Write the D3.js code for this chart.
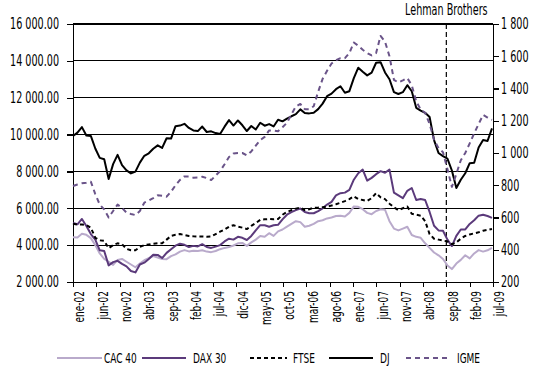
<!DOCTYPE html>
<html><head><meta charset="utf-8">
<script src="https://cdn.jsdelivr.net/npm/d3@7"></script>
<style>
html,body{margin:0;padding:0;background:#fff;}
svg text{font-family:"DejaVu Sans Condensed","DejaVu Sans",sans-serif;font-stretch:condensed;fill:#000;}
</style></head>
<body><svg id="c" width="546" height="378"></svg>
<script>
// x-axis tick labels (as printed on the chart)
const tickLabels = ["ene-02","jun-02","nov-02","abr-03","sep-03","feb-04","jul-04","dic-04","may-05","oct-05","mar-06","ago-06","ene-07","jun-07","nov-07","abr-08","sep-08","feb-09","jul-09"];
const eventLabel = "Lehman Brothers";
const eventTick = "sep-08";
// monthly observations, ene-02 ... nov-09 (95 points)
const months = d3.timeMonths(new Date(2002,0,1), new Date(2009,11,1));

const cac40 = [4430,4420,4620,4560,4380,4000,3550,3250,3100,2930,3200,3250,
 3100,2950,2800,3000,3180,3300,3410,3330,3250,3240,3400,3500,
 3650,3730,3660,3690,3680,3720,3650,3620,3680,3780,3850,3900,
 3980,4100,4120,3960,4150,4300,4500,4450,4650,4500,4750,4850,
 5000,5150,5300,5250,5000,5050,5150,5300,5350,5450,5500,5580,
 5600,5550,5750,6100,6080,5950,5750,5680,5850,5950,5920,5300,
 4900,4800,4900,5000,4550,4450,4400,4100,3850,3600,3450,3250,
 2900,2700,3000,3200,3450,3280,3550,3730,3650,3720,3850];
const dax30 = [5200,5130,5420,5040,4600,4300,3720,3680,2900,3080,3150,2980,
 2850,2600,2520,2950,3050,3250,3480,3470,3300,3580,3780,3970,
 4080,4020,3900,3960,3930,4050,3900,3850,3920,4000,4200,4350,
 4300,4450,4400,4280,4500,4800,5081,5081,5000,5081,5100,5400,
 5650,5790,5900,5990,5800,5730,5730,5850,6000,6200,6350,6700,
 6820,6850,7000,7550,7900,8100,7500,7650,7850,8016,7930,8100,
 6850,6700,6550,6950,7100,6450,6500,6450,5800,5050,4800,4780,
 4300,3950,4500,4850,4850,5150,5350,5600,5650,5580,5480];
const ftse = [5165,5120,5120,5090,4950,4400,4260,4230,3830,4000,4100,4050,
 3800,3720,3720,3900,4000,4040,4080,4100,4100,4300,4500,4560,
 4600,4550,4500,4480,4470,4470,4460,4470,4600,4730,4850,5000,
 5080,5000,4950,4870,5050,5200,5370,5400,5420,5400,5420,5650,
 5800,5900,5980,6040,5900,5950,6030,6040,6060,6090,6150,6220,
 6300,6390,6500,6650,6500,6450,6400,6550,6820,6600,6500,6250,
 6050,5900,6000,6100,5700,5650,5600,5300,4600,4350,4300,4250,
 4200,4050,4150,4350,4500,4580,4640,4700,4780,4830,4880];
const dj = [9920,10106,10404,9946,9925,9243,8737,8664,7592,8397,8896,8342,
 8054,7891,7992,8480,8850,8985,9234,9416,9275,9801,9782,10454,
 10488,10584,10358,10226,10188,10435,10140,10174,10080,10027,10428,10783,
 10490,10766,10504,10193,10467,10275,10641,10482,10569,10440,10806,10718,
 10865,10993,11109,11367,11168,11150,11186,11381,11679,12081,12222,12463,
 12622,12269,12354,13063,13628,13409,13212,13358,13896,13930,13372,13000,
 12300,12200,12300,12680,12350,11450,11300,11180,10950,9700,9000,8830,
 8700,8050,7100,7550,7900,8450,8470,9300,9700,9650,10340];
const igme = [795,805,812,815,822,745,680,650,600,640,680,660,
 630,622,615,640,692,705,720,738,735,729,760,800,
 833,855,855,847,848,853,845,832,860,888,930,975,
 997,1000,1000,985,1010,1045,1080,1100,1140,1140,1135,1160,
 1187,1240,1289,1304,1272,1272,1290,1380,1460,1510,1555,1575,
 1588,1588,1620,1685,1665,1640,1620,1605,1620,1726,1690,1600,
 1454,1437,1450,1465,1420,1320,1270,1250,1180,1083,1030,1005,
 900,790,870,955,1000,1060,1122,1180,1236,1220,1205];

const leftTicks = [2000,4000,6000,8000,10000,12000,14000,16000];
const rightTicks = [200,400,600,800,1000,1200,1400,1600,1800];

const series = [
  {name:"CAC 40", values:cac40, axis:"L", color:"#b9aacb", dash:null},
  {name:"DAX 30", values:dax30, axis:"L", color:"#5b3a7b", dash:null},
  {name:"FTSE",   values:ftse,  axis:"L", color:"#000000", dash:"4,3"},
  {name:"DJ",     values:dj,    axis:"L", color:"#000000", dash:null},
  {name:"IGME",   values:igme,  axis:"R", color:"#6a5489", dash:"5,4"}
];

const svg = d3.select("#c");
const L = 73, R = 493, T = 24, B = 282;

const x = d3.scalePoint().domain(d3.range(months.length)).range([L, 492]);
const xTick = d3.scalePoint().domain(tickLabels).range([L, R]);
const yL = d3.scaleLinear().domain([2000,16000]).range([B, T]);
const yR = d3.scaleLinear().domain([200,1800]).range([B, T]);

const fmtL = v => d3.format(",.2f")(v).replace(/,/g," ");
const fmtR = v => d3.format(",")(v).replace(/,/g," ");

// gridlines
svg.append("g").selectAll("line").data(leftTicks.slice(1)).join("line")
  .attr("x1", L).attr("x2", R).attr("y1", d=>yL(d)).attr("y2", d=>yL(d))
  .attr("stroke","#000").attr("stroke-width",1.2).attr("shape-rendering","crispEdges");

// axes
const gL = svg.append("g").attr("transform",`translate(${L},0)`)
  .call(d3.axisLeft(yL).tickValues(leftTicks).tickSize(6).tickSizeOuter(0).tickPadding(8).tickFormat(fmtL));
const gR = svg.append("g").attr("transform",`translate(${R},0)`)
  .call(d3.axisRight(yR).tickValues(rightTicks).tickSize(6).tickSizeOuter(0).tickPadding(2).tickFormat(fmtR));
const gB = svg.append("g").attr("transform",`translate(0,${B})`)
  .call(d3.axisBottom(xTick).tickSize(5).tickSizeOuter(0).tickFormat(""));
[gL,gR,gB].forEach(g=>{
  g.selectAll("path,line").attr("stroke","#000").attr("stroke-width",1.2).attr("shape-rendering","crispEdges");
  g.selectAll("text").style("font-size","15px").attr("fill","#000").attr("font-family",null);
});
gB.selectAll(".tick").append("text")
  .attr("transform","translate(6,9) rotate(-90)")
  .attr("text-anchor","end").attr("dy","0.35em")
  .style("font-size","14px")
  .text(d=>d);

// event line
const ex = xTick(eventTick);
svg.append("line").attr("x1",ex).attr("x2",ex).attr("y1",T).attr("y2",B)
  .attr("stroke","#000").attr("stroke-width",1.2).attr("stroke-dasharray","5,3");
svg.append("text").attr("x",ex).attr("y",15).attr("text-anchor","middle")
  .style("font-size","15px").text(eventLabel);

// series lines
series.forEach(s=>{
  const y = s.axis==="L" ? yL : yR;
  const line = d3.line().x((d,i)=>x(i)).y(d=>y(d));
  svg.append("path").datum(s.values).attr("d",line)
    .attr("fill","none").attr("stroke",s.color).attr("stroke-width",2)
    .attr("stroke-linejoin","round")
    .attr("stroke-dasharray",s.dash);
});

// legend
const legX = [57,142,250,329,406];
const legLen = [45,44,37,44,44];
const legGap = [2,7,6,7,7];
const ly = 358;
const lg = svg.append("g");
series.forEach((s,i)=>{
  lg.append("line").attr("x1",legX[i]).attr("x2",legX[i]+legLen[i]).attr("y1",ly).attr("y2",ly)
    .attr("stroke",s.color).attr("stroke-width",2).attr("stroke-dasharray",s.dash);
  lg.append("text").attr("x",legX[i]+legLen[i]+legGap[i]).attr("y",ly).attr("dy","0.35em")
    .style("font-size","14px").text(s.name);
});

// narrow the lettering (horizontal scale about each text's anchor) to match the condensed face
const probe = svg.append("text").style("font-size","15px").text(fmtL(16000));
const k = 49 / probe.node().getComputedTextLength();
probe.remove();
if (k < 0.98) {
  svg.selectAll("text").each(function(){
    const ax = +(this.getAttribute("x") || 0);
    const tr = this.getAttribute("transform") || "";
    this.setAttribute("transform", `${tr} translate(${ax},0) scale(${k.toFixed(4)},1) translate(${-ax},0)`.trim());
  });
}
</script></body></html>
